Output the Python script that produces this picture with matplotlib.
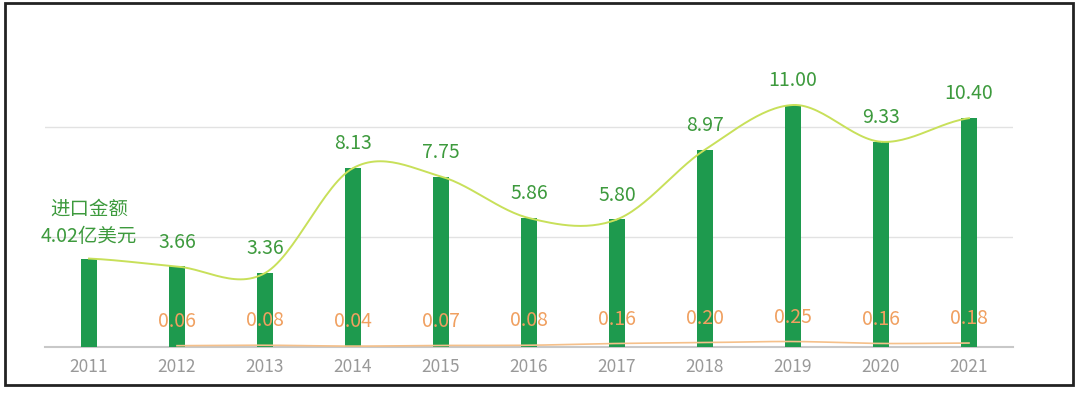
import matplotlib.pyplot as plt
import matplotlib.patches as patches
import numpy as np

plt.rcParams['font.family'] = ['Noto Sans CJK SC', 'DejaVu Sans']

# datos
years = ['2011', '2012', '2013', '2014', '2015', '2016', '2017', '2018', '2019', '2020', '2021']
importe = [4.02, 3.66, 3.36, 8.13, 7.75, 5.86, 5.80, 8.97, 11.00, 9.33, 10.40]
years_exp = ['2012', '2013', '2014', '2015', '2016', '2017', '2018', '2019', '2020', '2021']
exporte = [0.06, 0.08, 0.04, 0.07, 0.08, 0.16, 0.20, 0.25, 0.16, 0.18]


def catmull(xs, ys, n=30):
    # curva suave que pasa por los puntos
    xs = np.asarray(xs, float)
    ys = np.asarray(ys, float)
    px = np.concatenate([[2 * xs[0] - xs[1]], xs, [2 * xs[-1] - xs[-2]]])
    py = np.concatenate([[ys[0]], ys, [ys[-1]]])
    ox, oy = [], []
    t = np.linspace(0, 1, n)
    for i in range(1, len(px) - 2):
        for arr, out in ((px, ox), (py, oy)):
            p0, p1, p2, p3 = arr[i - 1], arr[i], arr[i + 1], arr[i + 2]
            out.extend(0.5 * ((2 * p1) + (-p0 + p2) * t
                              + (2 * p0 - 5 * p1 + 4 * p2 - p3) * t ** 2
                              + (-p0 + 3 * p1 - 3 * p2 + p3) * t ** 3))
    return np.array(ox), np.array(oy)


fig = plt.figure(figsize=(10.8, 3.93), dpi=100)
ax = fig.add_axes([45 / 1080, 46 / 393, 968 / 1080, 330 / 393])

x = np.arange(len(years))
xe = np.array([years.index(y) for y in years_exp])

ax.bar(x, importe, width=0.19, color='#1e9a4e', zorder=3)

sx, sy = catmull(x, importe)
ax.plot(sx, sy, color='#c8e05a', lw=1.4, zorder=4)
ex, ey = catmull(xe, exporte)
ax.plot(ex, ey, color='#f5c08a', lw=1.2, zorder=4)

for i, v in enumerate(importe):
    if i == 0:
        ax.annotate('进口金额\n{:.2f}亿美元'.format(v), (x[i], v), xytext=(0, 8),
                    textcoords='offset points', ha='center', va='bottom',
                    fontsize=14, color='#3d9a3d', linespacing=1.45)
    else:
        ax.annotate('{:.2f}'.format(v), (x[i], v), xytext=(0, 10),
                    textcoords='offset points', ha='center', va='bottom',
                    fontsize=14, color='#3d9a3d')

for i, v in zip(xe, exporte):
    ax.annotate('{:.2f}'.format(v), (i, v), xytext=(0, 10),
                textcoords='offset points', ha='center', va='bottom',
                fontsize=14, color='#f0a060', zorder=5)

ax.set_xlim(-0.5, len(years) - 0.5)
ax.set_ylim(0, 15)
ax.set_yticks([5, 10])
ax.yaxis.grid(True, color='#e2e2e2', lw=1)
ax.set_axisbelow(True)
ax.tick_params(axis='y', left=False, labelleft=False)
ax.set_xticks(x)
ax.set_xticklabels(years, fontsize=12.5, color='#999999')
ax.tick_params(axis='x', length=0, pad=8)
for s in ['top', 'right', 'left']:
    ax.spines[s].set_visible(False)
ax.spines['bottom'].set_color('#c8c8c8')
ax.spines['bottom'].set_linewidth(1.5)

# marco
fig.patches.append(patches.Rectangle((5 / 1080, 8 / 393), 1068 / 1080, 382 / 393,
                                     transform=fig.transFigure, fill=False,
                                     edgecolor='#222222', lw=2))

plt.savefig('out.png', dpi=100)
